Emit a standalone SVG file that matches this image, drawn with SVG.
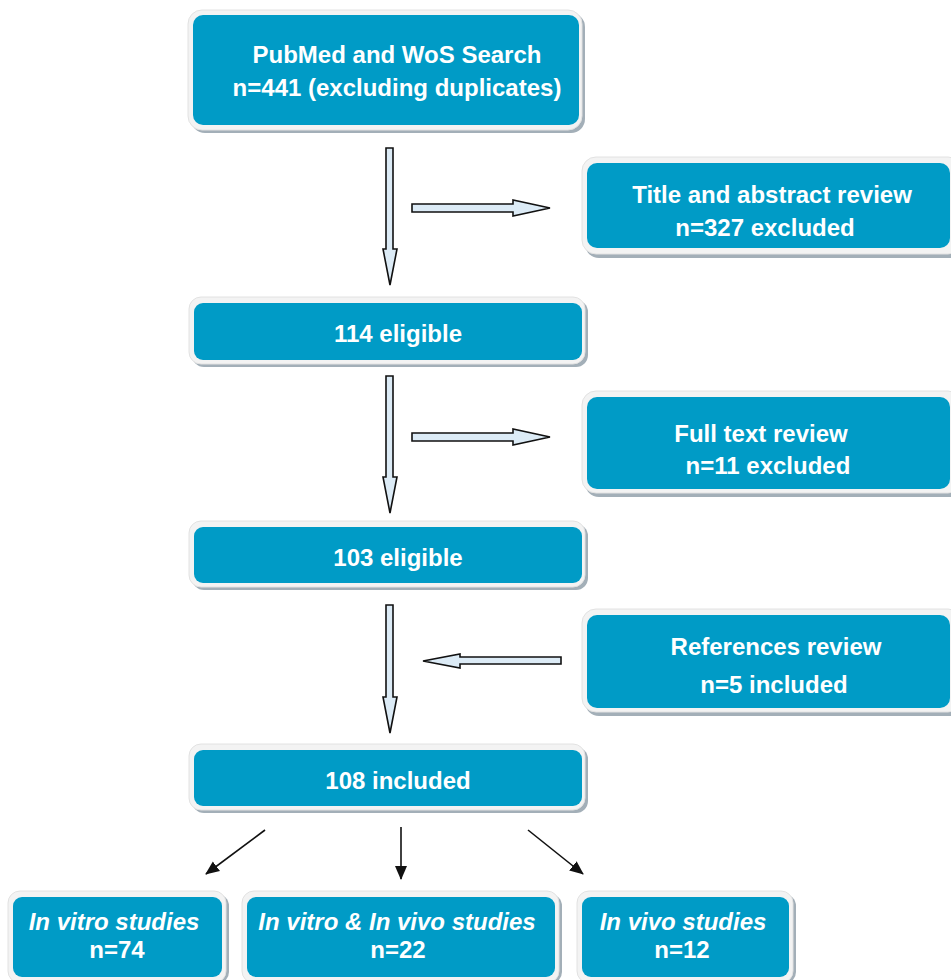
<svg xmlns="http://www.w3.org/2000/svg" width="951" height="980" viewBox="0 0 951 980">
<style>
.sh{fill:#a3afb8}
.fr{fill:#f3f3f3;stroke:#e2e2e2;stroke-width:1}
.bx{fill:#009bc6}
.t{font-family:"Liberation Sans",Arial,sans-serif;font-weight:bold;font-size:24px;fill:#ffffff;text-anchor:middle}
.i{font-style:italic}
.blk{fill:#dcebf6;stroke:#111111;stroke-width:1.6;stroke-linejoin:miter}
.ln{stroke:#111111;stroke-width:1.6;fill:none}
</style>
<defs>
<marker id="ah2" markerWidth="14" markerHeight="14" refX="13" refY="7" orient="auto" markerUnits="userSpaceOnUse" viewBox="0 0 14 14">
<path d="M0,1 L14,7 L0,13 z" fill="#111111"/>
</marker>
</defs>

<g id="n1">
<rect class="sh" x="191" y="13" width="394" height="120" rx="14"/>
<rect class="fr" x="188" y="10" width="394" height="120" rx="14"/>
<rect class="bx" x="193" y="15" width="386" height="110" rx="10"/>
<text class="t" x="397" y="63">PubMed and WoS Search</text>
<text class="t" x="397" y="96">n=441 (excluding duplicates)</text>
</g>

<g id="n2">
<rect class="sh" x="585" y="160" width="380" height="98" rx="14"/>
<rect class="fr" x="582" y="157" width="380" height="97" rx="14"/>
<rect class="bx" x="587" y="163" width="363" height="85" rx="10"/>
<text class="t" x="772" y="203">Title and abstract review</text>
<text class="t" x="765" y="236">n=327 excluded</text>
</g>

<g id="n3">
<rect class="sh" x="192" y="300" width="396" height="67" rx="12"/>
<rect class="fr" x="189" y="297" width="396" height="67" rx="12"/>
<rect class="bx" x="194" y="303" width="388" height="57" rx="9"/>
<text class="t" x="398" y="342">114 eligible</text>
</g>

<g id="n4">
<rect class="sh" x="585" y="394" width="380" height="103" rx="14"/>
<rect class="fr" x="582" y="391" width="380" height="102" rx="14"/>
<rect class="bx" x="587" y="397" width="363" height="92" rx="10"/>
<text class="t" x="761" y="442">Full text review</text>
<text class="t" x="768" y="474">n=11 excluded</text>
</g>

<g id="n5">
<rect class="sh" x="192" y="524" width="396" height="66" rx="12"/>
<rect class="fr" x="189" y="521" width="396" height="66" rx="12"/>
<rect class="bx" x="194" y="527" width="388" height="56" rx="9"/>
<text class="t" x="398" y="566">103 eligible</text>
</g>

<g id="n6">
<rect class="sh" x="585" y="612" width="380" height="104" rx="14"/>
<rect class="fr" x="582" y="609" width="380" height="103" rx="14"/>
<rect class="bx" x="587" y="615" width="363" height="93" rx="10"/>
<text class="t" x="776" y="655">References review</text>
<text class="t" x="774" y="693">n=5 included</text>
</g>

<g id="n7">
<rect class="sh" x="192" y="747" width="396" height="66" rx="12"/>
<rect class="fr" x="189" y="744" width="396" height="66" rx="12"/>
<rect class="bx" x="194" y="750" width="388" height="56" rx="9"/>
<text class="t" x="398" y="789">108 included</text>
</g>

<g id="n8">
<rect class="sh" x="11" y="894" width="218" height="90" rx="12"/>
<rect class="fr" x="8" y="891" width="218" height="92" rx="12"/>
<rect class="bx" x="13" y="897" width="209" height="80" rx="9"/>
<text class="t i" x="114" y="930">In vitro studies</text>
<text class="t" x="117" y="958">n=74</text>
</g>

<g id="n9">
<rect class="sh" x="245" y="894" width="317" height="90" rx="12"/>
<rect class="fr" x="242" y="891" width="317" height="92" rx="12"/>
<rect class="bx" x="247" y="897" width="308" height="80" rx="9"/>
<text class="t i" x="397" y="930">In vitro &amp; In vivo studies</text>
<text class="t" x="398" y="958">n=22</text>
</g>

<g id="n10">
<rect class="sh" x="580" y="894" width="216" height="90" rx="12"/>
<rect class="fr" x="577" y="891" width="216" height="92" rx="12"/>
<rect class="bx" x="582" y="897" width="207" height="80" rx="9"/>
<text class="t i" x="683" y="930">In vivo studies</text>
<text class="t" x="682" y="958">n=12</text>
</g>

<g id="connectors">
<path class="blk" d="M386,148 L393,148 L393,249 L397,249 L390,285 L383,249 L386,249 Z"/>
<path class="blk" d="M412,204 L513,204 L513,200 L550,208 L513,216 L513,212 L412,212 Z"/>
<path class="blk" d="M386,376 L393,376 L393,477 L397,477 L390,513 L383,477 L386,477 Z"/>
<path class="blk" d="M412,433 L513,433 L513,429 L550,437 L513,445 L513,441 L412,441 Z"/>
<path class="blk" d="M386,605 L393,605 L393,697 L397,697 L390,733 L383,697 L386,697 Z"/>
<path class="blk" d="M561,657 L460,657 L460,654 L423,661 L460,668 L460,664 L561,664 Z"/>
<line class="ln" x1="265" y1="830" x2="206" y2="874" marker-end="url(#ah2)"/>
<line class="ln" x1="401" y1="827" x2="401" y2="879" marker-end="url(#ah2)"/>
<line class="ln" x1="528" y1="830" x2="583" y2="874" marker-end="url(#ah2)"/>
</g>
</svg>
